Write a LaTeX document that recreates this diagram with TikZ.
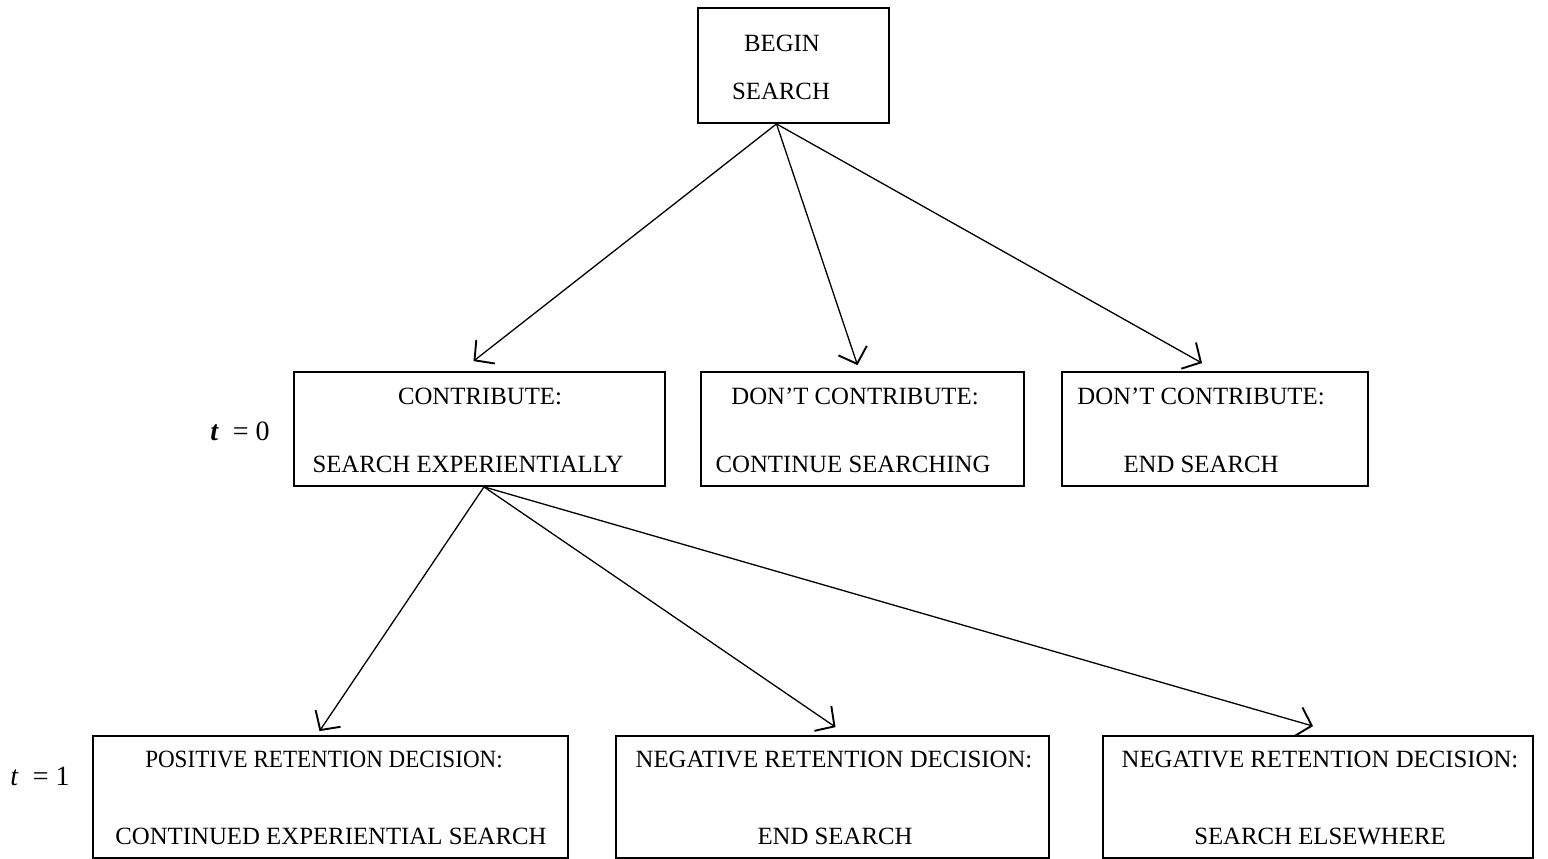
\documentclass[tikz,border=0pt]{standalone}
\usepackage{fontspec}
\setmainfont{Liberation Serif}
\usetikzlibrary{arrows.meta}
\begin{document}
\begin{tikzpicture}[x=1pt,y=-1pt,
  box/.style={draw,line width=1.8pt,inner sep=0pt},
  lbl/.style={font=\fontsize{24.8}{29}\selectfont,inner sep=0pt},
  arr/.style={line width=1.3pt,-{Straight Barb[length=14pt,width=30pt,line width=1.9pt]}}]
\useasboundingbox (0,0) rectangle (1548,859);
% boxes
\node[box,minimum width=191pt,minimum height=115pt] (begin) at (793.5,65.5) {};
\node[box,minimum width=371pt,minimum height=114pt] (contrib) at (479.5,429) {};
\node[box,minimum width=323pt,minimum height=114pt] (dontcont) at (862.5,429) {};
\node[box,minimum width=306pt,minimum height=114pt] (dontend) at (1215,429) {};
\node[box,minimum width=475pt,minimum height=122pt] (pos) at (330.5,797) {};
\node[box,minimum width=433pt,minimum height=122pt] (negend) at (832.5,797) {};
\node[box,minimum width=430pt,minimum height=122pt] (negelse) at (1318,797) {};
% texts
\node[lbl] (t1) at (782,43) {BEGIN};
\node[lbl] (t2) at (781,91) {SEARCH};
\node[lbl] (t3) at (480,396) {CONTRIBUTE:};
\node[lbl] (t4) at (468,464) {SEARCH EXPERIENTIALLY};
\node[lbl] (t5) at (855,396) {DON'T CONTRIBUTE:};
\node[lbl] (t6) at (853,464) {CONTINUE SEARCHING};
\node[lbl] (t7) at (1201,396) {DON'T CONTRIBUTE:};
\node[lbl] (t8) at (1201,464) {END SEARCH};
\node[lbl,xscale=0.93] (t9) at (324,759) {POSITIVE RETENTION DECISION:};
\node[lbl] (t10) at (331,836) {CONTINUED EXPERIENTIAL SEARCH};
\node[lbl] (t11) at (834,759) {NEGATIVE RETENTION DECISION:};
\node[lbl] (t12) at (835,836) {END SEARCH};
\node[lbl] (t13) at (1320,759) {NEGATIVE RETENTION DECISION:};
\node[lbl] (t14) at (1320,836) {SEARCH ELSEWHERE};
\node[lbl,font=\fontsize{28}{32}\selectfont] (tz) at (240,431) {\textbf{\textit{t}}\enspace= 0};
\node[lbl,font=\fontsize{28}{32}\selectfont] (to) at (40,776) {\textit{t}\enspace= 1};
% arrows
\draw[arr] ([xshift=-17pt]begin.south) -- ([xshift=-6pt,yshift=10pt]contrib.north);
\draw[arr] ([xshift=-17pt]begin.south) -- ([xshift=-5pt,yshift=6pt]dontcont.north);
\draw[arr] ([xshift=-17pt]begin.south) -- ([xshift=-13pt,yshift=8pt]dontend.north);
\draw[arr] ([xshift=4.5pt]contrib.south) -- ([xshift=-11pt,yshift=4pt]pos.north);
\draw[arr] ([xshift=4.5pt]contrib.south) -- ([xshift=3pt,yshift=8pt]negend.north);
\draw[arr] ([xshift=4.5pt]contrib.south) -- ([xshift=-5pt,yshift=9pt]negelse.north);
\end{tikzpicture}
\end{document}
